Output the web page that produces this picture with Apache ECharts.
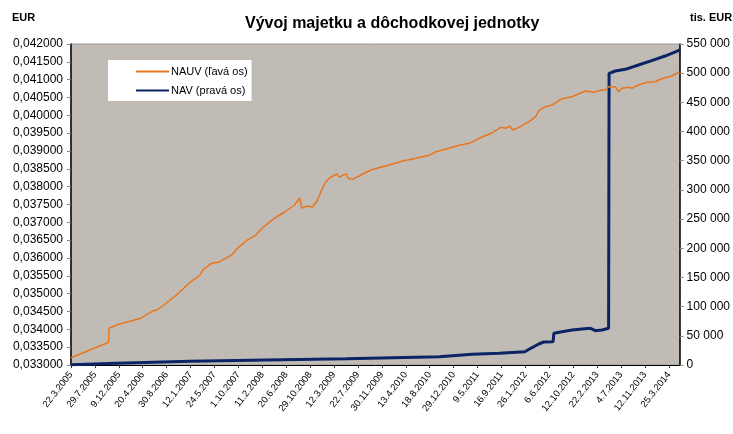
<!DOCTYPE html>
<html lang="sk">
<head>
<meta charset="UTF-8">
<title>Vývoj majetku a dôchodkovej jednotky</title>
<script src="https://cdn.jsdelivr.net/npm/echarts@6/dist/echarts.min.js"></script>
<style>
    html, body { margin: 0; padding: 0; background: #fff; }
    #chart { width: 733px; height: 434px; }
</style>
</head>
<body>
<div id="chart"></div>
<script type="text/javascript">
    // x positions are measured in label steps (0 = 22.3.2005, 1 = 29.7.2005, ...)
    let dateLabels = ['22.3.2005', '29.7.2005', '9.12.2005', '20.4.2006', '30.8.2006', '12.1.2007',
        '24.5.2007', '1.10.2007', '11.2.2008', '20.6.2008', '29.10.2008', '12.3.2009', '22.7.2009',
        '30.11.2009', '13.4.2010', '18.8.2010', '29.12.2010', '9.5.2011', '16.9.2011', '26.1.2012',
        '6.6.2012', '12.10.2012', '22.2.2013', '4.7.2013', '12.11.2013', '25.3.2014'];

    // NAUV (lava os), EUR
    let nauvX = [0, 1.575, 1.59, 1.99, 2.55, 2.9, 3.45, 3.59, 3.94, 4.49, 4.98, 5.40, 5.53, 5.88, 6.16,
        6.72, 6.99, 7.34, 7.69, 8.08, 8.52, 8.94, 9.35, 9.56, 9.65, 9.90, 10.10, 10.31, 10.48, 10.65,
        10.77, 10.88, 11.12, 11.23, 11.37, 11.51, 11.58, 11.78, 12.20, 12.55, 12.83, 13.31, 13.87,
        14.43, 14.98, 15.26, 15.81, 16.23, 16.65, 17.06, 17.62, 17.97, 18.18, 18.34, 18.48, 18.73,
        19.15, 19.43, 19.56, 19.84, 20.12, 20.40, 20.53, 20.95, 21.51, 21.85, 22.20, 22.34, 22.48,
        22.76, 22.90, 23.03, 23.31, 23.45, 23.73, 24.08, 24.43, 24.70, 25.12, 25.44];
    let nauvY = [0.033205, 0.033636, 0.034029, 0.034141, 0.034242, 0.034309, 0.034522, 0.034542,
        0.034710, 0.035010, 0.035319, 0.035523, 0.035683, 0.035851, 0.035879, 0.036084, 0.036289,
        0.036485, 0.036625, 0.036889, 0.037121, 0.037290, 0.037486, 0.037682, 0.037402, 0.037458,
        0.037430, 0.037626, 0.037907, 0.038131, 0.038215, 0.038279, 0.038355, 0.038262, 0.038327,
        0.038355, 0.038234, 0.038206, 0.038355, 0.038467, 0.038523, 0.038607, 0.038720, 0.038795,
        0.038879, 0.038980, 0.039076, 0.039160, 0.039216, 0.039356, 0.039513, 0.039664, 0.039636,
        0.039701, 0.039589, 0.039664, 0.039821, 0.039961, 0.040130, 0.040242, 0.040290, 0.040410,
        0.040466, 0.040522, 0.040682, 0.040646, 0.040710, 0.040710, 0.040803, 0.040803, 0.040663,
        0.040758, 0.040786, 0.040758, 0.040850, 0.040926, 0.040943, 0.041027, 0.041103, 0.041215];

    // NAV (prava os), tis. EUR
    let navX = [0, 1.92, 4.98, 8.17, 11.5, 15.4, 16.78, 17.90, 18.98, 19.22, 19.56, 19.77, 20.16,
        20.19, 20.53, 20.95, 21.37, 21.72, 21.93, 22.20, 22.48, 22.50, 22.76, 23.18, 23.73, 24.28,
        24.84, 25.40, 25.44];
    let navY = [500, 2900, 6300, 8600, 10800, 14200, 18300, 20000, 22800, 28600, 36000, 39400, 39900,
        54300, 57100, 60000, 61700, 62900, 58800, 60000, 62900, 499800, 503700, 506600, 514000,
        521400, 529400, 538500, 541000];

    let font = 'Liberation Sans';

    function pairs(xs, ys) {
        return xs.map(function (x, i) { return [x, ys[i]]; });
    }

    let option = {
        backgroundColor: '#ffffff',
        animation: false,
        title: {
            text: 'Vývoj majetku a dôchodkovej jednotky',
            left: 240,
            top: 11,
            textStyle: { fontFamily: font, fontSize: 16, fontWeight: 'bold', color: '#000' }
        },
        graphic: [
            { type: 'text', left: 12, top: 12, style: { text: 'EUR', font: 'bold 11px ' + font, fill: '#000' } },
            { type: 'text', left: 690, top: 12, style: { text: 'tis. EUR', font: 'bold 11px ' + font, fill: '#000' } }
        ],
        legend: {
            orient: 'vertical',
            left: 108,
            top: 60,
            padding: [6, 4, 5, 27],
            itemWidth: 33,
            itemHeight: 12,
            itemGap: 8,
            backgroundColor: '#ffffff',
            textStyle: { fontFamily: font, fontSize: 11, color: '#000', padding: [0, 0, 0, -3] },
            data: [
                { name: 'NAUV (ľavá os)', itemStyle: { opacity: 0 } },
                { name: 'NAV (pravá os)', itemStyle: { opacity: 0 } }
            ]
        },
        grid: {
            left: 71, right: 51, top: 44, bottom: 69,
            show: true,
            backgroundColor: '#c0bcb5',
            borderColor: '#9a9a9a',
            borderWidth: 1
        },
        xAxis: {
            type: 'value',
            min: 0,
            max: 25.45,
            interval: 1,
            axisLine: { show: true, onZero: false, lineStyle: { color: '#000', width: 1 } },
            axisTick: { show: true, length: 3, lineStyle: { color: '#333' } },
            splitLine: { show: false },
            axisLabel: {
                rotate: 52,
                margin: 8,
                showMaxLabel: false,
                fontFamily: font,
                fontSize: 9.5,
                color: '#000',
                formatter: function (v) {
                    return Number.isInteger(v) && dateLabels[v] ? dateLabels[v] : '';
                }
            }
        },
        yAxis: [
            {
                type: 'value',
                min: 0.033,
                max: 0.042,
                interval: 0.0005,
                position: 'left',
                axisLine: { show: true, lineStyle: { color: '#000', width: 1.5 } },
                axisTick: { show: true, length: 4, lineStyle: { color: '#888' } },
                splitLine: { show: false },
                axisLabel: {
                    margin: 8,
                    fontFamily: font,
                    fontSize: 12,
                    color: '#000',
                    formatter: function (v) { return v.toFixed(6).replace('.', ','); }
                }
            },
            {
                type: 'value',
                min: 0,
                max: 550000,
                interval: 50000,
                position: 'right',
                axisLine: { show: true, lineStyle: { color: '#000', width: 1.5 } },
                axisTick: { show: true, length: 4, lineStyle: { color: '#888' } },
                splitLine: { show: false },
                axisLabel: {
                    margin: 7,
                    fontFamily: font,
                    fontSize: 12,
                    color: '#000',
                    formatter: function (v) {
                        return String(Math.round(v)).replace(/\B(?=(\d{3})+(?!\d))/g, ' ');
                    }
                }
            }
        ],
        series: [
            {
                name: 'NAUV (ľavá os)',
                type: 'line',
                yAxisIndex: 0,
                symbol: 'none',
                lineStyle: { color: '#e8761f', width: 1.5 },
                itemStyle: { color: '#e8761f' },
                data: pairs(nauvX, nauvY),
                z: 3
            },
            {
                name: 'NAV (pravá os)',
                type: 'line',
                yAxisIndex: 1,
                symbol: 'none',
                lineStyle: { color: '#0a2466', width: 3 },
                itemStyle: { color: '#0a2466' },
                data: pairs(navX, navY),
                z: 2
            }
        ]
    };

    let myChart = echarts.init(document.getElementById('chart'));
    myChart.setOption(option);
</script>
</body>
</html>
